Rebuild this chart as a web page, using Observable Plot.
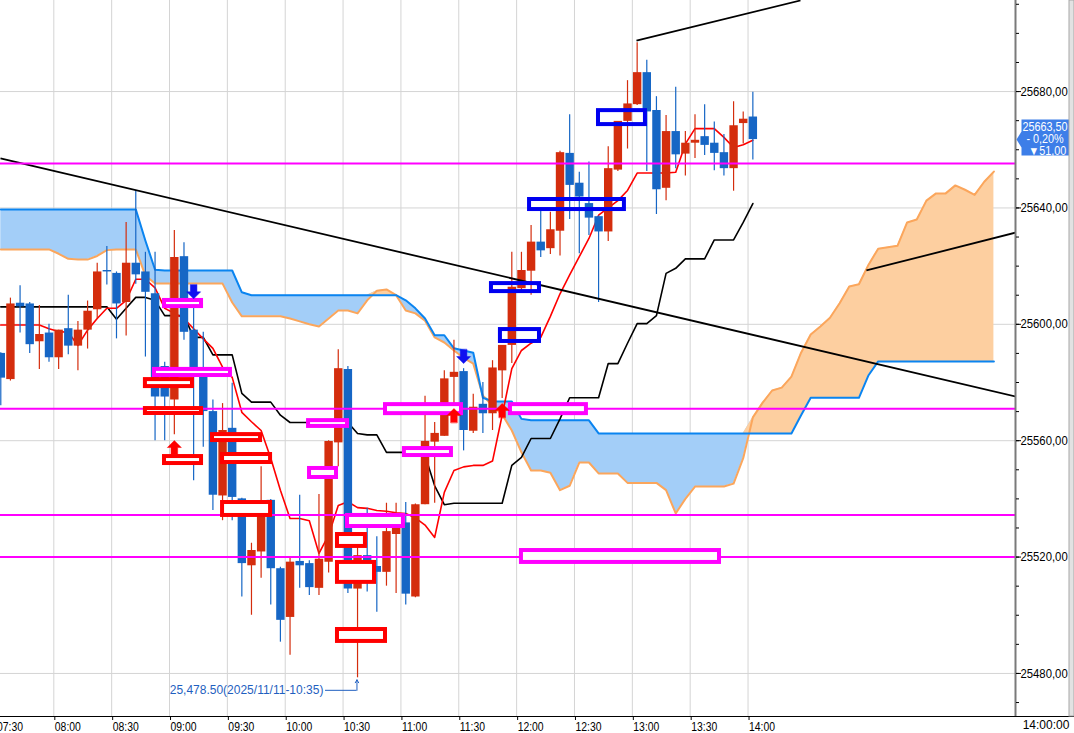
<!DOCTYPE html>
<html>
<head>
<meta charset="utf-8">
<script src="https://cdn.jsdelivr.net/npm/d3@7"></script>
<script src="https://cdn.jsdelivr.net/npm/@observablehq/plot@0.6"></script>
<style>
  body { margin: 0; background: #fff; }
  #chart { width: 1074px; height: 733px; overflow: hidden; }
</style>
</head>
<body>
<div id="chart"></div>
<script>
// 5-minute bars, first bar 07:30, last bar 14:00
const barMinutes = 5;

const open = [
  25590, 25581, 25607.25, 25607, 25594, 25597, 25588.5, 25598.5, 25592.5, 25598,
  25605, 25618.5, 25617.5, 25607.5, 25621, 25618, 25610.5, 25585.5, 25574, 25623.25,
  25598, 25582, 25570, 25541, 25564.25, 25540, 25517, 25521.75, 25539.5, 25516,
  25499.25, 25518.5, 25517.75, 25509.25, 25518.25, 25559.25, 25584.5, 25509, 25520.5, 25516.75,
  25514.75, 25527.75, 25531.75, 25506.25, 25538, 25559.5, 25561.5, 25581.75, 25583.75, 25563.25,
  25572.5, 25569.25, 25584, 25592.75, 25612.25, 25618.25, 25628.25, 25626, 25632, 25658.75,
  25648.5, 25641.5, 25637, 25631.75, 25653, 25669.75, 25675.5, 25686.5, 25673.5, 25646.75,
  25666.25, 25658.5, 25662.25, 25664.5, 25662.25, 25659, 25653.5, 25669, 25671.25
];
const high = [
  25590.25, 25609, 25613.25, 25607.5, 25606.5, 25600, 25598, 25610, 25601, 25608,
  25621, 25626.75, 25618, 25635, 25646, 25624.75, 25624.75, 25587, 25632.25, 25628,
  25609.5, 25597.25, 25574, 25572.75, 25579.75, 25540.25, 25524.75, 25551, 25539.75, 25516.5,
  25519.5, 25541.25, 25518.75, 25541.5, 25560, 25591.25, 25585.5, 25525.5, 25536.75, 25527,
  25538.5, 25538.5, 25538.75, 25538.25, 25575.25, 25566.25, 25584, 25594.5, 25584.75, 25576,
  25580, 25587.5, 25592.75, 25624.75, 25624.75, 25634, 25639, 25638.5, 25659.5, 25672,
  25652.25, 25655.75, 25637.25, 25661, 25669.75, 25683.75, 25696.75, 25690.75, 25678.25, 25671.75,
  25681.5, 25666.25, 25672, 25675.5, 25669.5, 25665.25, 25676.5, 25673, 25679.75
];
const low = [
  25572, 25580.5, 25597, 25590, 25584.5, 25587, 25584.5, 25589.5, 25584, 25591.5,
  25602, 25613.5, 25595, 25596, 25613.75, 25588.75, 25560, 25560, 25562, 25594.5,
  25546.25, 25557.75, 25536, 25532.5, 25532.5, 25506.25, 25500, 25512.75, 25503.5, 25490.75,
  25486.25, 25509.25, 25506.75, 25506.75, 25514.5, 25551, 25507.5, 25478.5, 25508, 25501,
  25510, 25507.5, 25503.5, 25506, 25538, 25538.5, 25561.5, 25566.75, 25556.5, 25562.5,
  25562.5, 25563.5, 25574.5, 25586.5, 25611.5, 25610, 25623, 25624, 25623.5, 25636,
  25624.25, 25630.5, 25607.5, 25628.5, 25652.5, 25660.25, 25675.25, 25652.5, 25637.75, 25642.5,
  25653.5, 25651, 25657, 25658, 25652.75, 25651, 25645.75, 25662, 25656.5
];
const close = [
  25581.5, 25607, 25606, 25593, 25596.5, 25588.5, 25598, 25592.5, 25598, 25604.5,
  25618, 25618, 25607, 25621, 25617, 25611, 25575, 25575, 25623, 25597.25,
  25581.75, 25570, 25541.25, 25563.5, 25540.5, 25517.75, 25522.25, 25538.5, 25516, 25498.25,
  25518.25, 25517, 25509.5, 25519.25, 25559.75, 25584.75, 25509, 25520.5, 25516.5, 25514.75,
  25528.75, 25531.5, 25507.25, 25538, 25559.75, 25562.5, 25581.25, 25583.5, 25563.5, 25571.5,
  25569.25, 25585, 25592.75, 25612.75, 25618.5, 25628.25, 25625.25, 25632.5, 25659, 25647.75,
  25643.75, 25636.5, 25631.75, 25653.5, 25669.75, 25675.75, 25686.5, 25673, 25646.25, 25666.25,
  25658.25, 25662.25, 25663.25, 25661.5, 25658.75, 25653.5, 25668.25, 25670.5, 25663.5
];

// conversion line (red) and base line (black)
const tenkan = [
  25599.75, 25599.75, 25599.75, 25599.75, 25599.75, 25598.5, 25597.5, 25597.25, 25592.75, 25598,
  25602, 25605.5, 25605.5, 25608.25, 25615.5, 25615.5, 25612.5, 25605.5, 25603.75, 25602,
  25598.5, 25595, 25591.75, 25585.25, 25581.75, 25569.75, 25566.5, 25563.5, 25554, 25543,
  25533.25, 25533.25, 25532.5, 25521.25, 25527.5, 25537.75, 25539, 25537, 25536.75, 25536,
  25535.75, 25535.25, 25535, 25533.5, 25531, 25526.75, 25542.25, 25549.75, 25551, 25551.5,
  25551.5, 25553, 25568.75, 25584.75, 25591, 25593.5, 25595.5, 25602.75, 25610.5, 25617,
  25623.25, 25629.5, 25637.5, 25640, 25642.5, 25646, 25652, 25652, 25652, 25652,
  25652.25, 25662, 25667.25, 25667.25, 25667.25, 25664.25, 25660.75, 25661.75, 25663.25
];
const kijun = [
  25606, 25606, 25606, 25606, 25606, 25606, 25606, 25606, 25606, 25606,
  25606, 25606, 25601.75, 25605.5, 25609.25, 25609.25, 25608.25, 25603, 25603, 25603,
  25595.5, 25595.5, 25589.5, 25589.5, 25589.5, 25576.25, 25573.25, 25573.25, 25573.25, 25568.75,
  25566.25, 25566.25, 25566.25, 25566.25, 25566.25, 25566.25, 25566.25, 25562.5, 25562, 25562,
  25556, 25556, 25556, 25556, 25555, 25544.5, 25538, 25538.5, 25538.5, 25538.5,
  25538.5, 25538.5, 25538.5, 25551.5, 25554.25, 25560.75, 25560.75, 25560.75, 25567.5, 25574.75,
  25574.75, 25574.75, 25574.75, 25586.5, 25586.5, 25593.5, 25600.25, 25600.25, 25603, 25617.5,
  25619.25, 25622.5, 25622.5, 25622.5, 25629, 25629, 25629, 25635, 25641.5
];

// leading spans (cloud), same 5-minute grid, running 25 bars past the last bar
const spanA = [
  25639.5, 25639.5, 25639.5, 25639.5, 25639.5, 25639.5, 25639.5, 25639.5, 25639.5, 25639.5,
  25639.5, 25639.5, 25639.5, 25639.5, 25639.5, 25628.75, 25618.75, 25618.5, 25618.5, 25618.5,
  25618.5, 25618.5, 25618.5, 25618.5, 25618.5, 25611, 25610, 25610, 25610, 25610,
  25610, 25610, 25610, 25610, 25610, 25610, 25610, 25610, 25610, 25610,
  25610, 25610, 25608.25, 25605.5, 25602, 25596.25, 25596.25, 25591.75, 25591, 25590.25,
  25574.75, 25573.5, 25573.5, 25573.5, 25567.5, 25567, 25567, 25567, 25567, 25567,
  25567, 25567, 25562.5, 25562.5, 25562.5, 25562.5, 25562.5, 25562.5, 25562.5, 25562.5,
  25562.5, 25562.5, 25562.5, 25562.5, 25562.5, 25562.5, 25562.5, 25562.5, 25562.5, 25562.5,
  25562.5, 25562.5, 25562.5, 25568.75, 25574.75, 25574.75, 25574.75, 25574.75, 25574.75, 25574.75,
  25582.5, 25587.25, 25587.25, 25587.25, 25587.25, 25587.25, 25587.25, 25587.25, 25587.25, 25587.25,
  25587.25, 25587.25, 25587.25, 25587.25
];
const spanB = [
  25625.75, 25625.75, 25625.75, 25625.75, 25625.75, 25625.75, 25624.25, 25622.5, 25622.25, 25622.25,
  25623.5, 25625.5, 25625.75, 25625.75, 25625.75, 25616.75, 25614, 25614, 25614, 25614,
  25614, 25614, 25614, 25614, 25607.5, 25602.75, 25602.75, 25602.75, 25602.75, 25602.75,
  25602, 25601, 25600, 25599.25, 25602, 25604.75, 25604.75, 25603.75, 25608.25, 25611.5,
  25612, 25610, 25604.75, 25603.75, 25601.25, 25595.5, 25593.75, 25591, 25588.5, 25586.5,
  25575.5, 25572, 25569, 25563.5, 25556, 25549.75, 25549.75, 25549, 25543, 25544.5,
  25552.5, 25552.5, 25548.75, 25548.75, 25548.75, 25545.5, 25545.5, 25545.5, 25545.5, 25543,
  25535, 25540, 25544.25, 25544.25, 25544.25, 25544.25, 25545.25, 25554, 25568, 25573,
  25577.25, 25578.25, 25582, 25590.25, 25596.5, 25599.25, 25602.25, 25607.25, 25613, 25613.75,
  25620.5, 25626, 25626.5, 25627, 25635, 25636, 25642.5, 25645, 25645, 25647.75,
  25646.25, 25644.5, 25649, 25652.5
];

const timeLabels = ["07:30", "08:00", "08:30", "09:00", "09:30", "10:00", "10:30",
  "11:00", "11:30", "12:00", "12:30", "13:00", "13:30", "14:00"];
const priceLabels = [25480, 25520, 25560, 25600, 25640, 25680];
const levels = [25655.25, 25571, 25534.5, 25520];

// drawn objects, x in minutes after 07:30
const trendLines = [
  [2.35, 25657, 528.7, 25575.2],
  [332.15, 25697.5, 417.2, 25711.3],
  [451.4, 25618.5, 528.7, 25631.5]
];
const magentaBoxes = [
  [87.4, 106.6, 25608.2, 25606.1],
  [82.2, 121.6, 25584.5, 25582.4],
  [162.1, 182.3, 25566.9, 25564.9],
  [162.6, 176.6, 25550.45, 25547.35],
  [182.3, 211.3, 25534.3, 25530.5],
  [202, 241.4, 25572.4, 25569.3],
  [211.8, 236.2, 25557.3, 25554.9],
  [266.8, 306.2, 25572.4, 25569.3],
  [272.5, 375.2, 25522.25, 25518.15]
];
const redBoxes = [
  [77.5, 101.9, 25581, 25578.6],
  [77.5, 106.6, 25571.05, 25569.35],
  [87.4, 106.6, 25554.55, 25552.15],
  [112.3, 137.2, 25562.1, 25560.05],
  [117.5, 142.4, 25555.25, 25552.5],
  [117.5, 142.4, 25538.75, 25534.3],
  [177.1, 191.6, 25527.75, 25523.65],
  [177.1, 196.3, 25518.15, 25511.3],
  [177.1, 202, 25495.1, 25491]
];
const blueBoxes = [
  [312.45, 336.8, 25673.45, 25668.65],
  [276.7, 325.9, 25642.9, 25639.45],
  [256.95, 281.85, 25614, 25611.25],
  [261.6, 281.85, 25598.2, 25594.1]
];
const downArrows = [[102.5, 25608.75], [242.5, 25586.5]];
const upArrows = [[92.5, 25560.05], [237.5, 25571.05], [262.5, 25572.8]];

const lastPrice = 25663.5;
const tagLines = ["25663,50", "- 0,20%", "\u25BC51,00"];
const lowLabel = "25,478.50(2025/11/11-10:35)";
const cursorTime = "14:00:00";

const RED = "#d42d0d", BLUE = "#1666c5";
const FONT = "'Liberation Sans', Arial, sans-serif";

function toMin(s) {
  const [h, m] = s.split(":").map(Number);
  return h * 60 + m - 450;
}
const fmtPrice = (d) => d3.format(".2f")(d).replace(".", ",");

const candles = open.map((o, i) => ({
  t: i * barMinutes + 2.5,
  open: o, high: high[i], low: low[i], close: close[i],
  tenkan: tenkan[i], kijun: kijun[i],
  color: close[i] >= o ? RED : BLUE
}));
const cloud = spanA.map((a, i) => ({ t: i * barMinutes + 2.5, a, b: spanB[i] }));

const boxes = [
  ...blueBoxes.map((b) => ({ b, stroke: "#0000f0", fill: "none" })),
  ...magentaBoxes.map((b) => ({ b, stroke: "#ff00ff", fill: "#fff" })),
  ...redBoxes.map((b) => ({ b, stroke: "#ff0000", fill: "#fff" }))
];
const arrows = [
  ...downArrows.map(([t, p]) => ({ t, p, rot: 180, color: "#1010f0" })),
  ...upArrows.map(([t, p]) => ({ t, p, rot: 0, color: "#ff0000" }))
];

// block arrow pointing along the vector
const blockArrow = {
  draw(context, l) {
    const hw = 7, sw = 3.3, hh = 7;
    context.moveTo(-sw, 0);
    context.lineTo(-sw, hh - l);
    context.lineTo(-hw, hh - l);
    context.lineTo(0, -l);
    context.lineTo(hw, hh - l);
    context.lineTo(sw, hh - l);
    context.lineTo(sw, 0);
    context.closePath();
  }
};
// price tag outline, drawn from its tip on the price scale
const tagShape = {
  draw(context) {
    context.moveTo(1, 0);
    context.lineTo(6, -8);
    context.lineTo(6, -20);
    context.lineTo(54, -20);
    context.lineTo(54, 16);
    context.lineTo(6, 16);
    context.lineTo(6, 8);
    context.closePath();
  }
};

const xDomain = [2.35, 528.7];
const yDomain = [25465.2, 25711.3];
const timeTicks = timeLabels.map(toMin);

const plot = Plot.plot({
  width: 1074,
  height: 733,
  marginLeft: 0,
  marginRight: 59,
  marginTop: 0,
  marginBottom: 17,
  x: { domain: xDomain, axis: null, label: null },
  y: { domain: yDomain, axis: null, label: null },
  color: { type: "identity" },
  style: { fontFamily: FONT, fontSize: "13px", background: "#fff", color: "#000", overflow: "visible" },
  marks: [
    Plot.gridX(timeTicks, { stroke: "#d4d4d4", strokeOpacity: 1 }),
    Plot.gridY(priceLabels, { stroke: "#d4d4d4", strokeOpacity: 1 }),

    // cloud
    Plot.areaY(cloud, { x: "t", y1: "b", y2: (d) => Math.max(d.a, d.b), fill: "#a3cef8" }),
    Plot.areaY(cloud, { x: "t", y1: "a", y2: (d) => Math.max(d.a, d.b), fill: "#fdcfa0" }),
    Plot.line(cloud, { x: "t", y: "b", stroke: "#fba65c", strokeWidth: 2 }),
    Plot.line(cloud, { x: "t", y: "a", stroke: "#0a84f0", strokeWidth: 2 }),

    Plot.line(candles, { x: "t", y: "kijun", stroke: "#000", strokeWidth: 1.6 }),
    Plot.line(candles, { x: "t", y: "tenkan", stroke: "#ff0000", strokeWidth: 1.6 }),

    // candles
    Plot.ruleX(candles, { x: "t", y1: "low", y2: "high", stroke: "color", strokeWidth: 1.2 }),
    Plot.ruleX(candles, { x: "t", y1: "open", y2: "close", stroke: "color", strokeWidth: 8.4 }),

    Plot.link(trendLines, {
      x1: (d) => d[0], y1: (d) => d[1], x2: (d) => d[2], y2: (d) => d[3],
      stroke: "#000", strokeWidth: 1.8, clip: true
    }),
    Plot.ruleY(levels, { stroke: "#ff00ff", strokeWidth: 2 }),

    Plot.rect(boxes, {
      x1: (d) => d.b[0], x2: (d) => d.b[1], y1: (d) => d.b[2], y2: (d) => d.b[3],
      stroke: "stroke", fill: "fill", strokeWidth: 4
    }),
    Plot.vector(arrows, {
      x: "t", y: "p", rotate: "rot", length: 14, anchor: "end",
      shape: blockArrow, fill: "color", stroke: "color", strokeWidth: 0.5
    }),

    // session low annotation
    Plot.text([lowLabel], { x: 169.8, y: 25474.2, text: (d) => d, textAnchor: "end", fill: "#1f5fc0", fontSize: 12 }),
    Plot.ruleY([25474.2], { x1: 170.9, x2: 187.2, stroke: "#1f5fc0", strokeWidth: 1 }),
    Plot.arrow([0], { x1: 187.2, y1: 25474.2, x2: 187.2, y2: 25477.8, stroke: "#1f5fc0", strokeWidth: 1, headLength: 5 }),

    // axes
    Plot.ruleX([xDomain[1]], { stroke: "#7a7a7a", strokeWidth: 2 }),
    Plot.ruleY([yDomain[0]], { x1: xDomain[0], x2: 560, stroke: "#000", strokeWidth: 1 }),
    Plot.axisY(d3.range(25470, 25711, 10), { anchor: "right", tickSize: 3, tickFormat: () => "", label: null }),
    Plot.axisY(priceLabels, { anchor: "right", tickSize: 5, tickPadding: 0, tickFormat: fmtPrice, fontSize: 13, label: null }),
    Plot.axisX(timeTicks, {
      anchor: "bottom", tickSize: 4, tickPadding: 1, textAnchor: "start", dx: 1,
      tickFormat: (m) => timeLabels[timeTicks.indexOf(m)], fontSize: 13, label: null
    }),
    Plot.text([cursorTime], { x: 532.4, y: yDomain[0], dy: 9, text: (d) => d, textAnchor: "start", fontSize: 12 }),

    // current price tag on the price scale
    Plot.vector([lastPrice], {
      x: xDomain[1], y: (d) => d, length: 1, anchor: "start",
      shape: tagShape, fill: "#3d7ee8", stroke: "none"
    }),
    Plot.text(tagLines, {
      x: xDomain[1], y: lastPrice, text: (d) => d, textAnchor: "start",
      fill: "#fff", fontSize: 12
    })
  ]
});

document.getElementById("chart").append(plot);

const svg = d3.select(plot);
svg.append("rect").attr("x", 1069).attr("y", 0).attr("width", 5).attr("height", 716)
  .attr("fill", "#e2e2e2").attr("stroke", "#a8a8a8").attr("stroke-width", 1);

// tag lines: stack them inside the tag
const tagOffsets = [[7, -12.5], [11, 0], [13, 12]];
svg.selectAll("text")
  .filter(function () { return tagLines.includes(this.textContent); })
  .each(function () {
    const [dx, dy] = tagOffsets[tagLines.indexOf(this.textContent)];
    this.setAttribute("transform", `translate(${1015 + dx},${plot.scale("y").apply(lastPrice) + dy})`);
  });

// the reference uses a narrow screen font: squeeze the texts to its widths
function squeeze(nodes, k) {
  nodes.each(function () {
    const len = this.getComputedTextLength();
    if (len > 0) {
      this.setAttribute("textLength", len * k);
      this.setAttribute("lengthAdjust", "spacingAndGlyphs");
    }
  });
}
squeeze(svg.selectAll('g[aria-label="y-axis tick label"] text'), 0.87);
squeeze(svg.selectAll('g[aria-label="x-axis tick label"] text'), 0.8);
squeeze(svg.selectAll("text").filter(function () { return tagLines.includes(this.textContent); }), 0.9);
</script>
</body>
</html>
